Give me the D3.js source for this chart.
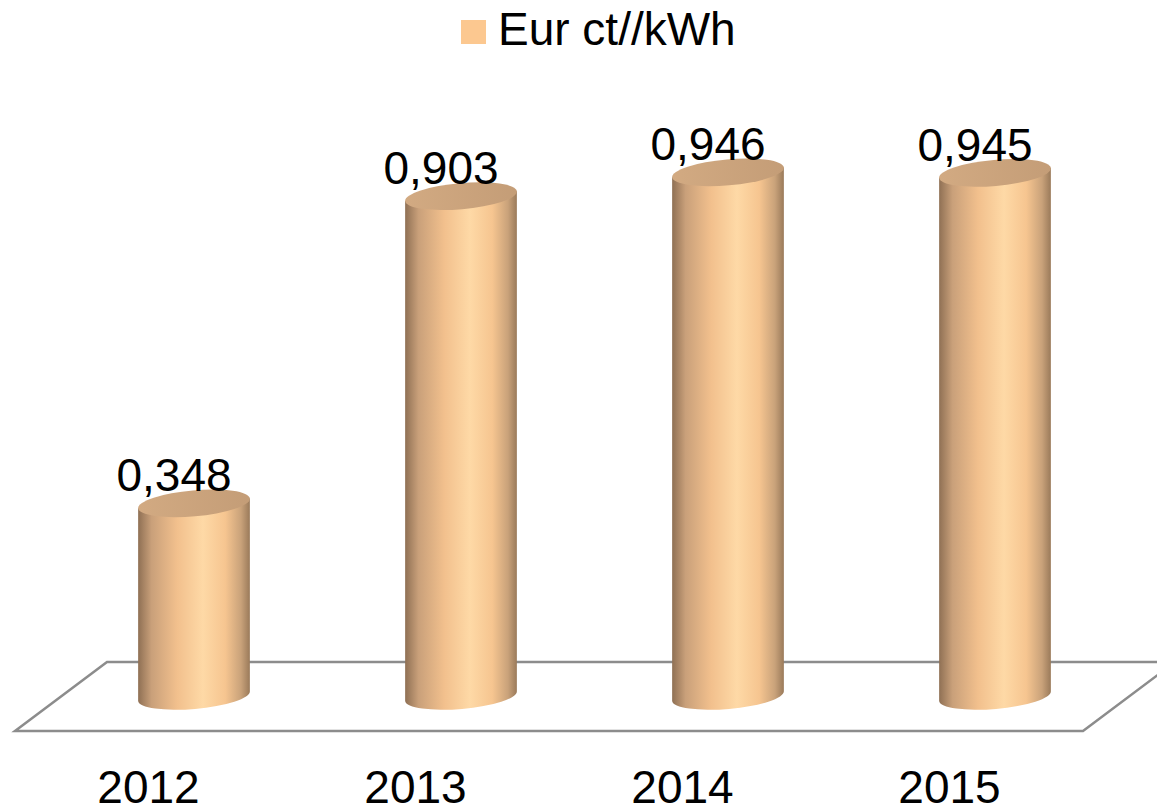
<!DOCTYPE html>
<html>
<head>
<meta charset="utf-8">
<script src="https://cdnjs.cloudflare.com/ajax/libs/d3/7.8.5/d3.min.js"></script>
<style>
  body { margin: 0; background: #fff; }
  text { font-family: "Liberation Sans", Arial, sans-serif; fill: #000; }
</style>
</head>
<body>
<div id="chart"></div>
<script>
// chart data
var years = ["2012", "2013", "2014", "2015"];
var values = [0.348, 0.903, 0.946, 0.945];
var valueLabels = ["0,348", "0,903", "0,946", "0,945"];
var seriesName = "Eur ct//kWh";

var width = 1157, height = 809;

var svg = d3.select("#chart").append("svg")
  .attr("width", width)
  .attr("height", height);

var x = d3.scaleBand()
  .domain(years)
  .range([60.5, 1128.5])
  .paddingInner(0.58)
  .paddingOuter(0.29);

var y = d3.scaleLinear().domain([0, 1]).range([696, 142.5]);

// gradient for the cylinder body
var defs = svg.append("defs");
var grad = defs.append("linearGradient").attr("id", "body")
  .attr("x1", "0%").attr("x2", "100%").attr("y1", "0%").attr("y2", "0%");
[["0%", "#8f7054"], ["12%", "#c9a07a"], ["35%", "#f2c08d"], ["58%", "#fed9a6"],
 ["78%", "#f6c590"], ["92%", "#c9a27a"], ["100%", "#9a7a5a"]].forEach(function(s) {
  grad.append("stop").attr("offset", s[0]).attr("stop-color", s[1]);
});
var topGrad = defs.append("linearGradient").attr("id", "top")
  .attr("x1", "0%").attr("x2", "100%");
topGrad.append("stop").attr("offset", "0%").attr("stop-color", "#d2aa82");
topGrad.append("stop").attr("offset", "100%").attr("stop-color", "#c49d77");

// floor (3D base plane)
var dx = 92, dy = 69;
var base = y(0);
var frontY = base + 35, backY = frontY - dy;
var frontL = 15, frontR = 1083;
svg.append("path")
  .attr("d", "M" + frontL + "," + frontY + " L" + frontR + "," + frontY +
             " L" + (frontR + dx) + "," + backY + " L" + (frontL + dx) + "," + backY + " Z")
  .attr("fill", "none")
  .attr("stroke", "#8c8c8c")
  .attr("stroke-width", 2.5);

// cylinders
var rx = x.bandwidth() / 2, ry = 13, rot = -5;
var ca = Math.cos(rot * Math.PI / 180), sa = Math.sin(rot * Math.PI / 180);

function bodyPath(cx, yTop, yBot) {
  var lx = cx - rx * ca, ly = -rx * sa;
  var rxp = cx + rx * ca, ryp = rx * sa;
  return "M" + lx + "," + (yTop + ly) +
    " L" + lx + "," + (yBot + ly) +
    " A" + rx + "," + ry + " " + rot + " 0 0 " + rxp + "," + (yBot + ryp) +
    " L" + rxp + "," + (yTop + ryp) + " Z";
}

var bars = svg.selectAll(".bar")
  .data(years)
  .enter().append("g")
  .attr("class", "bar");

bars.append("path")
  .attr("d", function(d, i) {
    var cx = x(d) + rx;
    return bodyPath(cx, y(values[i]), y(0));
  })
  .attr("fill", "url(#body)");

bars.append("ellipse")
  .attr("cx", 0).attr("cy", 0)
  .attr("rx", rx).attr("ry", ry)
  .attr("transform", function(d, i) {
    return "translate(" + (x(d) + rx) + "," + y(values[i]) + ") rotate(" + rot + ")";
  })
  .attr("fill", "url(#top)");

// value labels
bars.append("text")
  .attr("x", function(d) { return x(d) + rx - 20; })
  .attr("y", function(d, i) { return y(values[i]) - 12; })
  .attr("text-anchor", "middle")
  .attr("font-size", 46)
  .text(function(d, i) { return valueLabels[i]; });

// category labels
svg.selectAll(".xlab")
  .data(years)
  .enter().append("text")
  .attr("class", "xlab")
  .attr("x", function(d) { return x(d) + rx - 45.5; })
  .attr("y", 803)
  .attr("text-anchor", "middle")
  .attr("font-size", 46)
  .text(function(d) { return d; });

// legend
var legend = svg.append("g");
legend.append("rect")
  .attr("x", 461).attr("y", 20)
  .attr("width", 25).attr("height", 24)
  .attr("fill", "#fcc890");
legend.append("text")
  .attr("x", 498).attr("y", 45)
  .attr("font-size", 46)
  .text(seriesName);
</script>
</body>
</html>
